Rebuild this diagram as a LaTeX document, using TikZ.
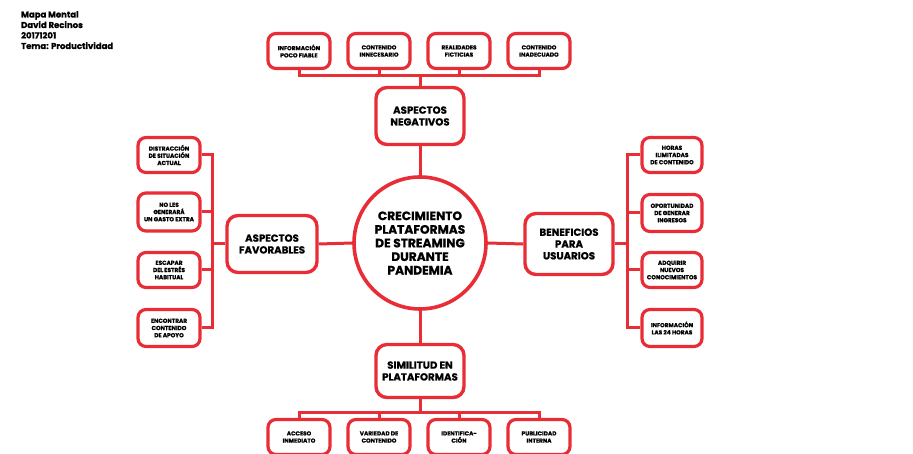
\documentclass[tikz,border=0pt]{standalone}
\usepackage{fontspec}
\setmainfont{Poppins}[BoldFeatures={FakeBold=0.9}]
\definecolor{myred}{RGB}{232,45,55}
\begin{document}
\begin{tikzpicture}[x=1pt,y=-1pt,
  small/.style={draw=myred, fill=white, line width=3.2pt, rounded corners=8pt, minimum width=62pt, minimum height=35pt, align=center, inner sep=0pt, font=\bfseries\fontsize{5.8}{7.2}\selectfont},
  big/.style={draw=myred, fill=white, line width=3.4pt, rounded corners=11pt, minimum width=88pt, minimum height=57pt, align=center, inner sep=0pt, font=\bfseries\fontsize{10.2}{11.8}\selectfont},
  hub/.style={circle, draw=myred, fill=white, line width=3.6pt, minimum size=132pt, align=center, inner sep=0pt, font=\bfseries\fontsize{12.2}{13.6}\selectfont},
  conn/.style={draw=myred, line width=3pt},
  title/.style={anchor=north west, align=left, inner sep=0pt, font=\bfseries\fontsize{8.5}{10.5}\selectfont}]
\useasboundingbox (0,0) rectangle (913,454);
\node[title] (ttl) at (21,11) {Mapa Mental\\David Recinos\\20171201\\Tema: Productividad};
% center
\node[hub] (c) at (420,243) {CRECIMIENTO\\PLATAFORMAS\\DE STREAMING\\DURANTE\\PANDEMIA};
% main boxes
\node[big] (neg) at (420,116) {ASPECTOS\\NEGATIVOS};
\node[big, minimum width=90pt] (fav) at (272,244) {ASPECTOS\\FAVORABLES};
\node[big, minimum height=61pt] (ben) at (569,244) {BENEFICIOS\\PARA\\USUARIOS};
\node[big, minimum height=53pt] (sim) at (420,371) {SIMILITUD EN\\PLATAFORMAS};
% top
\node[small] (t1) at (299,51) {INFORMACIÓN\\POCO FIABLE};
\node[small] (t2) at (379,51) {CONTENIDO\\INNECESARIO};
\node[small] (t3) at (459,51) {REALIDADES\\FICTICIAS};
\node[small] (t4) at (539,51) {CONTENIDO\\INADECUADO};
% left
\node[small] (l1) at (169,155) {DISTRACCIÓN\\DE SITUACIÓN\\ACTUAL};
\node[small, minimum height=38pt] (l2) at (169,212) {NO LES\\GENERARÁ\\UN GASTO EXTRA};
\node[small] (l3) at (169,270) {ESCAPAR\\DEL ESTRÉS\\HABITUAL};
\node[small, minimum height=37pt] (l4) at (169,328) {ENCONTRAR\\CONTENIDO\\DE APOYO};
% right
\node[small, minimum width=60pt] (r1) at (672,155) {HORAS\\ILIMITADAS\\DE CONTENIDO};
\node[small, minimum width=60pt, minimum height=37pt] (r2) at (672,213) {OPORTUNIDAD\\DE GENERAR\\INGRESOS};
\node[small, minimum width=60pt] (r3) at (672,270) {ADQUIRIR\\NUEVOS\\CONOCIMIENTOS};
\node[small, minimum width=60pt, minimum height=37pt] (r4) at (672,328) {INFORMACIÓN\\LAS 24 HORAS};
% bottom
\node[small] (b1) at (299,437) {ACCESO\\INMEDIATO};
\node[small] (b2) at (379,437) {VARIEDAD DE\\CONTENIDO};
\node[small] (b3) at (459,437) {IDENTIFICA-\\CIÓN};
\node[small] (b4) at (539,437) {PUBLICIDAD\\INTERNA};
% junctions
\coordinate (tj) at (420,76);
\coordinate (lj) at (212,244);
\coordinate (rj) at (627,244);
\coordinate (bj) at (420,412);
% connectors
\draw[conn] (c.north) -- (neg.south);
\draw[conn] (neg.north) -- (tj);
\draw[conn] (t1.south) |- (tj) -| (t4.south);
\draw[conn] (t2.south) -- (t2.south |- tj);
\draw[conn] (t3.south) -- (t3.south |- tj);
\draw[conn] (c.west) -- (fav.east);
\draw[conn] (fav.west) -- (lj);
\draw[conn] (l1.east) -| (lj) |- (l4.east);
\draw[conn] (l2.east) -- (l2.east -| lj);
\draw[conn] (l3.east) -- (l3.east -| lj);
\draw[conn] (c.east) -- (ben.west);
\draw[conn] (ben.east) -- (rj);
\draw[conn] (r1.west) -| (rj) |- (r4.west);
\draw[conn] (r2.west) -- (r2.west -| rj);
\draw[conn] (r3.west) -- (r3.west -| rj);
\draw[conn] (c.south) -- (sim.north);
\draw[conn] (sim.south) -- (bj);
\draw[conn] (b1.north) |- (bj) -| (b4.north);
\draw[conn] (b2.north) -- (b2.north |- bj);
\draw[conn] (b3.north) -- (b3.north |- bj);
\end{tikzpicture}
\end{document}
